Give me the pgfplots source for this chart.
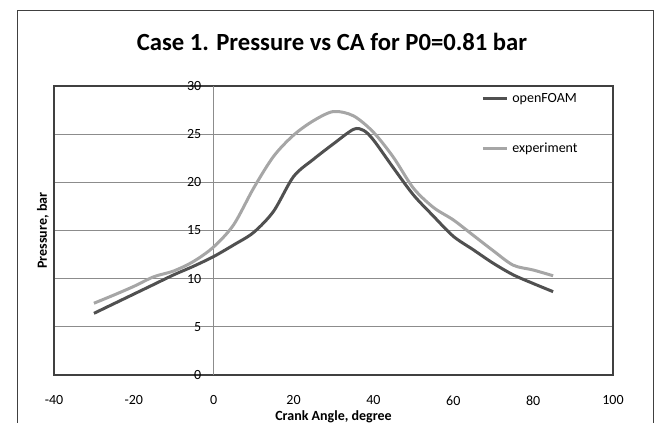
\documentclass[border=0pt]{standalone}
\usepackage{pgfplots}
\pgfplotsset{compat=1.18}
\usepackage{fontspec}
\setmainfont{Carlito}
\definecolor{cfoam}{HTML}{505050}
\definecolor{cexp}{HTML}{A6A6A6}
\definecolor{cgrid}{HTML}{8C8C8C}
\definecolor{cframe}{HTML}{404040}
\begin{document}
\begin{tikzpicture}
\useasboundingbox (0,0) rectangle (493.5pt,317.25pt);
\draw[cframe, line width=0.75pt] (12.75pt,-5pt) -- (12.75pt,309pt) -- (489.75pt,309pt) -- (489.75pt,-5pt);
\node[font=\fontsize{18.5}{22}\selectfont\bfseries] at (249pt,285.75pt) {Case 1. Pressure vs CA for P0=0.81 bar};
\begin{axis}[
  at={(40.5pt,36pt)}, anchor=south west,
  scale only axis, width=419.25pt, height=216.75pt,
  xmin=-40, xmax=100, ymin=0, ymax=30,
  xtick={-40,-20,...,100}, ytick={0,5,...,30},
  major tick length=0pt,
  /pgf/number format/assume math mode=true,
  ticklabel style={font=\fontsize{10.5}{12}\selectfont},
  yticklabel style={anchor=east, xshift=114pt},
  xticklabel style={yshift=-12pt},
  axis line style={draw=cframe, line width=1pt},
  ymajorgrids=true,
  grid style={draw=cgrid, line width=0.75pt},
  extra x ticks={0}, extra x tick labels={},
  extra x tick style={grid=major},
  xlabel={Crank Angle, degree},
  ylabel={Pressure, bar},
  label style={font=\fontsize{10.5}{12}\selectfont\bfseries},
  xlabel style={at={(axis description cs:0.5,0)}, anchor=center, yshift=-31.5pt},
  ylabel style={at={(axis description cs:0,0.5)}, anchor=center, yshift=8.25pt},
  legend style={draw=none, fill=none, at={(0.764,0.8685)}, anchor=west, inner sep=0pt,
    row sep=28.5pt, column sep=3pt, font=\fontsize{10.5}{12}\selectfont,
    nodes={inner sep=0pt, text height=7pt, text depth=2pt}},
  legend cell align=left,
  legend image code/.code={\draw[#1] (0pt,0pt) -- (18pt,0pt);},
]
\addplot[cfoam, line width=2.25pt, smooth, tension=0.5] coordinates {
(-30,6.4) (-25,7.4) (-20,8.4) (-15,9.4) (-10,10.4) (-5,11.3) (0,12.3) (5,13.5) (10,14.8) (15,17.0) (20,20.6) (25,22.4) (30,24.0) (35,25.5) (37.5,25.4) (40,24.4) (45,21.5) (50,18.7) (55,16.5) (60,14.4) (65,13.0) (70,11.6) (75,10.4) (80,9.5) (85,8.65)
};
\addlegendentry{openFOAM}
\addplot[cexp, line width=2.25pt, smooth, tension=0.5] coordinates {
(-30,7.45) (-25,8.3) (-20,9.2) (-15,10.2) (-10,10.8) (-5,11.8) (0,13.3) (5,15.6) (10,19.4) (15,22.7) (20,24.9) (25,26.4) (30,27.35) (35,26.9) (40,25.2) (45,22.6) (50,19.4) (55,17.4) (60,16.1) (65,14.5) (70,12.9) (75,11.4) (80,10.9) (85,10.3)
};
\addlegendentry{experiment}
\end{axis}
\end{tikzpicture}
\end{document}
